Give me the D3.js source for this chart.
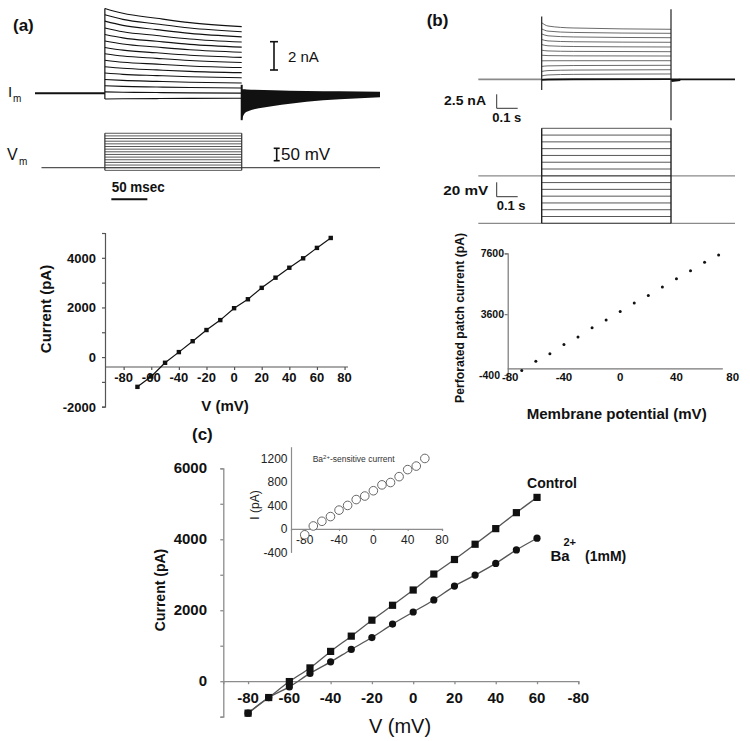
<!DOCTYPE html>
<html><head><meta charset="utf-8">
<script src="https://cdn.jsdelivr.net/npm/d3@7"></script>
<style>
body{margin:0;background:#fff}
svg{display:block}
text{font-family:"Liberation Sans",Arial,Helvetica,sans-serif}
</style>
</head><body>
<svg id="fig" width="750" height="741"></svg>
<script>
// ================= DATA =================
// Panel (a) current traces (nA): value at pulse onset and at pulse end, per sweep
const trA_start = [6.0, 5.55, 5.1, 4.62, 4.16, 3.7, 3.24, 2.8, 2.34, 1.88, 1.43, 0.98, 0.53, 0.1, -0.4];
const trA_end   = [4.71, 4.35, 3.99, 3.62, 3.26, 2.90, 2.54, 2.18, 1.82, 1.46, 1.10, 0.73, 0.37, 0.01, -0.35];
const trA_shapeT    = [0, 25, 72, 118, 190];      // ms into pulse
const trA_shapeFrac = [0, 0.27, 0.54, 0.78, 1];   // fraction of decay reached
const trA_tailT      = [0, 2, 7, 44, 90, 136, 192];              // ms after pulse
const trA_tailTop    = [0.3, 0.28, 0.27, 0.22, 0.17, 0.14, 0.11]; // nA
const trA_tailBottom = [-1.9, -1.6, -1.3, -0.9, -0.59, -0.42, -0.28];
const trA_offSpike   = [0.6, -1.9];
// Panel (a) voltage steps (mV)
const vmA_steps = [-70,-60,-50,-40,-30,-20,-10,0,10,20,30,40,50,60,70];
const vmA_hold = -60;

// Panel (a) I-V
const ivA_V = [-70,-60,-50,-40,-30,-20,-10,0,10,20,30,40,50,60,70];
const ivA_I = [-1200,-780,-230,200,640,1090,1490,1970,2330,2790,3200,3600,3980,4400,4800];
const ivA_xTicks = [-80,-60,-40,-20,0,20,40,60,80];
const ivA_yTicks = [-2000,-1000,0,1000,2000,3000,4000,5000];
const ivA_yLabels = [-2000,0,2000,4000];

// Panel (b) current traces (nA)
const trB_start = [10.1, 9.0, 8.1, 7.1, 6.2, 5.2, 4.3, 3.3, 2.3, 1.4, 0.6, 0.0, -0.1];
const trB_end   = [8.93, 8.21, 7.43, 6.61, 5.77, 4.93, 4.16, 3.32, 2.5, 1.71, 0.95, 0.11, 0.0];
const trB_shapeT    = [0, 30, 150, 616];
const trB_shapeFrac = [0, 0.5, 0.8, 1];
const trB_onSpike  = [11.2, -1.9];
const trB_offSpike = [12.5, -7.3];
// Panel (b) voltage steps (mV)
const vmB_steps = [-70,-60,-50,-40,-30,-20,-10,0,10,20,30,40,50,60,70];
const vmB_hold = 0;

// Panel (b) I-V
const ivB_V = [-70,-60,-50,-40,-30,-20,-10,0,10,20,30,40,50,60,70];
const ivB_I = [-100,500,1000,1600,2100,2700,3220,3770,4340,4820,5390,5920,6460,7010,7490];
const ivB_xTicks = [-80,-40,0,40,80];
const ivB_yTicks = [-400,3600,7600];

// Panel (c) I-V
const ivC_V = [-80,-70,-60,-50,-40,-30,-20,-10,0,10,20,30,40,50,60];
const ivC_control = [-900,-460,-10,375,840,1270,1720,2140,2570,3020,3430,3860,4300,4750,5180];
const ivC_ba      = [-900,-460,-160,220,545,895,1230,1610,1950,2290,2680,2990,3320,3700,4030];
const ivC_xTicks = [-80,-60,-40,-20,0,20,40,60,80];
const ivC_xTickLabels = ["-80","-60","-40","-20","0","20","40","60","-80"];
const ivC_yTicks = [-1000,0,1000,2000,3000,4000,5000,6000];
const ivC_yLabels = [0,2000,4000,6000];

// Inset: Ba2+-sensitive current
const inset_V = [-80,-70,-60,-50,-40,-30,-20,-10,0,10,20,30,40,50,60];
const inset_I = [-100,50,130,210,320,400,500,560,650,750,790,890,1010,1070,1200];
const inset_xTicks = [-80,-40,0,40,80];
const inset_yTicks = [-400,0,400,800,1200];

// ================= DRAWING =================
const svg = d3.select("#fig");
svg.append("rect").attr("width",750).attr("height",741).attr("fill","#fff");

function label(x, y, s, o = {}) {
  const t = svg.append("text").attr("x", x).attr("y", y).text(s)
    .attr("font-size", o.size || 14)
    .attr("font-weight", o.bold ? "bold" : "normal")
    .attr("fill", o.fill || "#111")
    .attr("text-anchor", o.anchor || "start");
  if (o.len) t.attr("textLength", o.len).attr("lengthAdjust", "spacingAndGlyphs");
  if (o.rotate) t.attr("transform", `rotate(-90,${x},${y})`);
  return t;
}
function seg(x1, y1, x2, y2, color, w) {
  svg.append("line").attr("x1",x1).attr("y1",y1).attr("x2",x2).attr("y2",y2)
    .attr("stroke", color).attr("stroke-width", w);
}

// ---------- Panel (a) traces ----------
label(13, 31, "(a)", {size: 17, bold: true});
const tA = d3.scaleLinear().domain([-97, 382]).range([35, 380]);
const iA = d3.scaleLinear().domain([0, 1]).range([93.3, 79.15]);
const vA = d3.scaleLinear().domain([vmA_hold, vmA_hold + 100]).range([167.7, 141.2]);
const lineCurve = d3.line().x(d => d[0]).y(d => d[1]).curve(d3.curveMonotoneX);

seg(tA(-97), iA(0), tA(0), iA(0), "#111", 2);
trA_start.forEach((s, i) => {
  const e = trA_end[i];
  const pts = trA_shapeT.map((t, k) => [tA(t), iA(s + (e - s) * trA_shapeFrac[k])]);
  svg.append("path").attr("d", lineCurve(pts)).attr("fill", "none")
    .attr("stroke", "#111").attr("stroke-width", 1.1);
});
seg(tA(0), iA(d3.max(trA_start)), tA(0), iA(d3.min(trA_start)), "#111", 1.2);
const tailArea = d3.area()
  .x((d, k) => tA(190 + trA_tailT[k]))
  .y0((d, k) => iA(trA_tailBottom[k]))
  .y1((d, k) => iA(trA_tailTop[k]))
  .curve(d3.curveMonotoneX);
svg.append("path").attr("d", tailArea(trA_tailT)).attr("fill", "#111");
seg(tA(190), iA(trA_offSpike[0]), tA(190), iA(trA_offSpike[1]), "#111", 2);

label(8, 97, "I", {size: 15});
label(13, 102, "m", {size: 10});
{
  const x = 274, y0 = 70;
  seg(x, y0, x, y0 - 2 * 14.15, "#111", 1.6);
  seg(x - 4, y0, x + 4, y0, "#111", 1.6);
  seg(x - 4, y0 - 2 * 14.15, x + 4, y0 - 2 * 14.15, "#111", 1.6);
  label(288, 62, "2 nA", {size: 15});
}
seg(tA(-88), vA(vmA_hold), tA(382), vA(vmA_hold), "#555", 1.2);
vmA_steps.forEach(v => {
  seg(tA(0), vA(v), tA(190), vA(v), "#444", 0.9);
});
seg(tA(0), vA(d3.min(vmA_steps)), tA(0), vA(d3.max(vmA_steps)), "#333", 1.2);
seg(tA(190), vA(d3.min(vmA_steps)), tA(190), vA(d3.max(vmA_steps)), "#333", 1.2);
label(7, 160, "V", {size: 16});
label(19, 165, "m", {size: 10});
{
  const x = 276.7, yb = 160.7, h = 12.4;
  seg(x, yb, x, yb - h, "#111", 1.6);
  seg(x - 3, yb, x + 3, yb, "#111", 1.6);
  seg(x - 3, yb - h, x + 3, yb - h, "#111", 1.6);
  label(281, 159.5, "50 mV", {size: 17});
}
seg(tA(9), 199.3, tA(59), 199.3, "#111", 2);
label(111.7, 191.7, "50 msec", {size: 15, bold: true, len: 53});

// ---------- Panel (a) I-V ----------
{
  const x = d3.scaleLinear().domain([-93.5, 82.5]).range([105, 348]);
  const y = d3.scaleLinear().domain([-2000, 5000]).range([406.7, 233]);
  const gY = svg.append("g").attr("transform", `translate(${x(-93.5)},0)`)
    .call(d3.axisLeft(y).tickValues(ivA_yTicks).tickSize(3).tickFormat(""));
  const gX = svg.append("g").attr("transform", `translate(0,${y(-400)})`)
    .call(d3.axisBottom(x).tickValues(ivA_xTicks).tickSize(3).tickFormat(""));
  [gX, gY].forEach(g => {
    g.selectAll("path,line").attr("stroke", "#555").attr("stroke-width", 1.2);
  });
  gX.select(".domain").attr("d", `M${x(-93.5)},0H${x(82.5)}`);
  ivA_yLabels.forEach(v => label(96, y(v) + 5, String(v), {size: 13, bold: true, anchor: "end"}));
  ivA_xTicks.forEach(v => label(x(v), 381.5, String(v), {size: 13, bold: true, anchor: "middle"}));
  svg.append("path").attr("d", d3.line().x((d,i)=>x(ivA_V[i])).y((d,i)=>y(ivA_I[i]))(ivA_V))
    .attr("fill", "none").attr("stroke", "#111").attr("stroke-width", 1.2);
  svg.selectAll(null).data(ivA_V).enter().append("rect")
    .attr("x", (d,i) => x(d) - 2.2).attr("y", (d,i) => y(ivA_I[i]) - 2.2)
    .attr("width", 4.4).attr("height", 4.4).attr("fill", "#111");
  label(51, 309, "Current (pA)", {size: 15, bold: true, anchor: "middle", rotate: true});
  label(225, 411, "V (mV)", {size: 15, bold: true, anchor: "middle"});
}

// ---------- Panel (b) traces ----------
label(426.7, 26, "(b)", {size: 17, bold: true});
{
  const tB = d3.scaleLinear().domain([0, 616]).range([541.7, 671]);
  const iB = d3.scaleLinear().domain([0, 1]).range([79.3, 73.7]);
  const vB = d3.scaleLinear().domain([-70, 70]).range([223.3, 128.3]);
  const tPre = tB.invert(478.3), tPost = tB.invert(735);
  seg(tB(tPre), iB(0), tB(0), iB(0), "#8a8a8a", 1.8);
  trB_start.forEach((s, i) => {
    const e = trB_end[i];
    const pts = trB_shapeT.map((t, k) => [tB(t), iB(s + (e - s) * trB_shapeFrac[k])]);
    svg.append("path").attr("d", lineCurve(pts)).attr("fill", "none")
      .attr("stroke", i === trB_start.length - 1 ? "#111" : "#444")
      .attr("stroke-width", i === trB_start.length - 1 ? 1.6 : 0.8);
  });
  seg(tB(0), iB(trB_onSpike[0]), tB(0), iB(trB_onSpike[1]), "#222", 1.2);
  seg(tB(616), iB(trB_offSpike[0]), tB(616), iB(trB_offSpike[1]), "#222", 1.2);
  seg(tB(616), iB(0), tB(tPost), iB(0), "#111", 1.8);
  seg(tB(618), iB(-0.3), tB(660), iB(-0.1), "#111", 2.2);
  const bx = 496.7, by = 108.3;
  seg(bx, by, bx, by - 2.5 * 5.6, "#333", 1);
  seg(bx, by, bx + (tB(100) - tB(0)), by, "#333", 1);
  label(444, 105, "2.5 nA", {size: 13, bold: true, len: 42});
  label(492.3, 121.7, "0.1 s", {size: 13, bold: true});
  seg(tB(tPre), vB(vmB_hold), tB(tPost), vB(vmB_hold), "#8a8a8a", 1.2);
  seg(tB(tPre), vB(d3.min(vmB_steps)), tB(tPost), vB(d3.min(vmB_steps)), "#8a8a8a", 1.2);
  vmB_steps.forEach(v => seg(tB(0), vB(v), tB(616), vB(v), "#444", 0.9));
  seg(tB(0), vB(d3.min(vmB_steps)), tB(0), vB(d3.max(vmB_steps)), "#222", 1.4);
  seg(tB(616), vB(d3.min(vmB_steps)), tB(616), vB(d3.max(vmB_steps)), "#222", 1.4);
  const by2 = 196.7;
  seg(bx, by2, bx, by2 - 20 * 0.72, "#333", 1);
  seg(bx, by2, bx + (tB(100) - tB(0)), by2, "#333", 1);
  label(443.3, 195, "20 mV", {size: 13, bold: true, len: 45});
  label(496.7, 210, "0.1 s", {size: 13, bold: true});
}

// ---------- Panel (b) I-V ----------
{
  const x = d3.scaleLinear().domain([-80, 80]).range([507.7, 732.7]);
  const y = d3.scaleLinear().domain([-400, 7600]).range([375, 253.3]);
  const gY = svg.append("g").attr("transform", `translate(${x(-80)},0)`)
    .call(d3.axisLeft(y).tickValues(ivB_yTicks).tickSize(3).tickFormat(""));
  const gX = svg.append("g").attr("transform", `translate(0,${y(0)})`)
    .call(d3.axisBottom(x).tickValues([]).tickSize(0).tickFormat(""));
  [gX, gY].forEach(g => g.selectAll("path,line").attr("stroke", "#777").attr("stroke-width", 1.2));
  gX.select(".domain").attr("d", `M${x(-80)},0H${x(73)}`);
  ivB_yTicks.forEach(v => label(v === -400 ? 500 : 504, y(v) + 4, String(v), {size: 10.5, bold: true, anchor: "end"}));
  ivB_xTicks.forEach(v => label(v === -80 ? x(v) + 2.5 : x(v), 381, String(v), {size: 11.5, bold: true, anchor: "middle"}));
  svg.selectAll(null).data(ivB_V).enter().append("circle")
    .attr("cx", d => x(d)).attr("cy", (d,i) => y(ivB_I[i])).attr("r", 1.5).attr("fill", "#111");
  label(464, 318, "Perforated patch current (pA)", {size: 12, bold: true, anchor: "middle", rotate: true, len: 170});
  label(616.7, 419, "Membrane potential (mV)", {size: 14, bold: true, anchor: "middle", len: 180});
}

// ---------- Panel (c) ----------
label(192, 440, "(c)", {size: 17, bold: true});
{
  const x = d3.scaleLinear().domain([-92, 80]).range([223.3, 578.3]);
  const y = d3.scaleLinear().domain([-1000, 6000]).range([716.7, 468.3]);
  const gY = svg.append("g").attr("transform", `translate(${x(-92)},0)`)
    .call(d3.axisLeft(y).tickValues(ivC_yTicks).tickSize(3).tickFormat(""));
  const gX = svg.append("g").attr("transform", `translate(0,${y(0)})`)
    .call(d3.axisBottom(x).tickValues(ivC_xTicks).tickSize(3).tickFormat(""));
  [gX, gY].forEach(g => g.selectAll("path,line").attr("stroke", "#8c8c8c").attr("stroke-width", 1.3));
  ivC_yLabels.forEach(v => label(207, y(v) + 5, String(v), {size: 15, bold: true, anchor: "end"}));
  ivC_xTicks.forEach((v, i) => label(x(v), 703, ivC_xTickLabels[i], {size: 15, bold: true, anchor: "middle"}));
  const ln = d3.line().curve(d3.curveMonotoneX);
  svg.append("path").attr("d", ln(ivC_V.map((v,i)=>[x(v), y(ivC_control[i])])))
    .attr("fill","none").attr("stroke","#555").attr("stroke-width",1.3);
  svg.append("path").attr("d", ln(ivC_V.map((v,i)=>[x(v), y(ivC_ba[i])])))
    .attr("fill","none").attr("stroke","#555").attr("stroke-width",1.3);
  svg.selectAll(null).data(ivC_V).enter().append("circle")
    .attr("cx", d => x(d)).attr("cy", (d,i) => y(ivC_ba[i])).attr("r", 3.6).attr("fill", "#111");
  svg.selectAll(null).data(ivC_V).enter().append("rect")
    .attr("x", d => x(d) - 3.6).attr("y", (d,i) => y(ivC_control[i]) - 3.6)
    .attr("width", 7.2).attr("height", 7.2).attr("fill", "#111");
  label(165, 590, "Current (pA)", {size: 14, bold: true, anchor: "middle", rotate: true});
  label(400, 733, "V (mV)", {size: 20, anchor: "middle"});
  label(552, 487.7, "Control", {size: 14, bold: true, anchor: "middle"});
  label(550.5, 560.5, "Ba", {size: 15, bold: true});
  label(563.5, 546, "2+", {size: 11, bold: true});
  label(585, 561, "(1mM)", {size: 14, bold: true});
}

// ---------- Inset ----------
{
  const x = d3.scaleLinear().domain([-96, 80]).range([291, 442]);
  const y = d3.scaleLinear().domain([-400, 1400]).range([552.4, 446.7]);
  const gY = svg.append("g").attr("transform", `translate(${x(-96)},0)`)
    .call(d3.axisLeft(y).tickValues(inset_yTicks).tickSize(0).tickFormat(""));
  const gX = svg.append("g").attr("transform", `translate(0,${y(0)})`)
    .call(d3.axisBottom(x).tickValues(inset_xTicks).tickSize(2).tickFormat(""));
  [gX, gY].forEach(g => g.selectAll("path,line").attr("stroke", "#8c8c8c").attr("stroke-width", 1.2));
  inset_yTicks.forEach(v => label(287.5, y(v) + 4.5, String(v), {size: 12, anchor: "end", fill: "#222"}));
  inset_xTicks.forEach(v => label(x(v), 544, String(v), {size: 12, anchor: "middle", fill: "#222"}));
  svg.selectAll(null).data(inset_V).enter().append("circle")
    .attr("cx", d => x(d)).attr("cy", (d,i) => y(inset_I[i])).attr("r", 4.3)
    .attr("fill", "#fff").attr("stroke", "#666").attr("stroke-width", 1);
  label(259, 505, "I (pA)", {size: 12, anchor: "middle", rotate: true, fill: "#222"});
  const tt = svg.append("text").attr("x", 312.7).attr("y", 462).attr("font-size", 8.5).attr("fill", "#333");
  tt.append("tspan").text("Ba");
  tt.append("tspan").text("2+").attr("font-size", 6).attr("dy", -3);
  tt.append("tspan").text("-sensitive current").attr("dy", 3);
}
</script>
</body></html>
